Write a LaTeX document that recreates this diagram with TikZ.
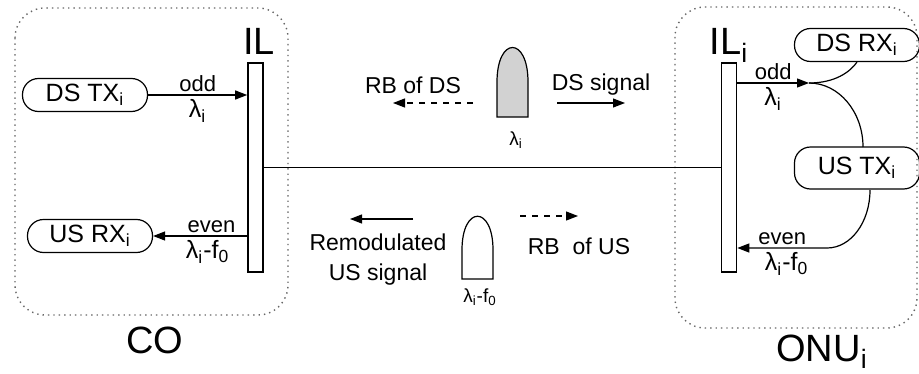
\documentclass[tikz,border=0pt]{standalone}
\usepackage{fontspec}
\setmainfont{Liberation Sans}
\usetikzlibrary{arrows.meta, positioning}
\newcommand{\ix}{\textsubscript{i}}
\tikzset{
  unit/.style={draw, line width=0.6pt, rounded corners=8pt, minimum width=62.5pt, minimum height=16.5pt, inner sep=1pt, font=\fontsize{12.5}{14}\selectfont},
  ilbar/.style={draw, line width=0.8pt, minimum width=7.5pt, minimum height=104.5pt, inner sep=0pt},
  area/.style={dotted, line width=0.7pt, gray!80!black, rounded corners=15pt},
  bigtxt/.style={anchor=base, inner sep=0pt, font=\fontsize{19}{22}\selectfont},
  lbl/.style={inner sep=1.2pt, font=\fontsize{11}{12}\selectfont},
  sym/.style={inner sep=2pt, font=\fontsize{12.5}{14}\selectfont},
  midtxt/.style={inner sep=0pt, font=\fontsize{11.5}{15}\selectfont, align=center},
  smallsym/.style={inner sep=0pt, font=\fontsize{9.5}{10}\selectfont}
}

\begin{document}
\begin{tikzpicture}[x=0.5pt, y=-0.5pt, line width=0.6pt, >={Triangle[length=6pt,width=4.5pt]}]
\useasboundingbox (0,0) rectangle (919,374);

% CO and ONU areas
\draw[area] (15,8) rectangle (288,315);
\draw[area] (675,7) rectangle (917,328);
\node[bigtxt] (co) at (155,353) {CO};
\node[bigtxt] (onu) at (822,361) {ONU\ix};

% interleavers
\node[ilbar] (il) at (255.5,167.5) {};
\node[ilbar] (ili) at (729,167.5) {};
\node[bigtxt] (iltxt) at (259,55) {IL};
\node[bigtxt] (ilitxt) at (729,55) {IL\ix};
\draw (il) -- (ili);

% transmitters and receivers
\node[unit] (dstx) at (85,95) {DS TX\ix};
\node[unit] (usrx) at (90,236) {US RX\ix};
\node[unit] (dsrx) at (857,45) {DS RX\ix};
\node[unit, minimum height=21pt] (ustx) at (857,168) {US TX\ix};

% CO side
\draw[->] (dstx) -- (dstx -| il.west)
  node[midway, above, lbl] {odd} node[midway, below, sym] {λ\ix};
\draw[->] (usrx -| il.west) -- (usrx)
  node[pos=0.38, above, lbl] {even} node[pos=0.42, below, sym] {λ\ix-f\textsubscript{0}};

% ONU side
\coordinate (jodd) at (809,83);
\coordinate (jeven) at (827,248);
\draw[->] (ili.east |- jodd) -- (jodd)
  node[midway, above, lbl] {odd} node[midway, below, sym] {λ\ix};
\draw (jodd) .. controls (835,83) and (850,72) .. (dsrx.south);
\draw (jodd) .. controls (839,83) and (863,112) .. (863,147);
\draw[->] (870,190) .. controls (870,222) and (851,248) .. (jeven) -- (ili.east |- jeven)
  node[midway, above, lbl] {even} node[pos=0.45, below, sym] {λ\ix-f\textsubscript{0}};

% downstream spectrum
\node[midtxt] (rbds) at (413,85) {RB of DS};
\node[midtxt] (dssig) at (601,85) {DS signal};
\coordinate (rbdsA) at (473,103);
\coordinate (rbdsB) at (393,103);
\coordinate (dssigA) at (557,103);
\coordinate (dssigB) at (625,103);
\draw[->, dashed] (rbdsA) -- (rbdsB);
\draw[->] (dssigA) -- (dssigB);
\filldraw[fill=gray!35] (497,117) -- (497,82) .. controls (497,36) and (528,36) .. (528,82) -- (528,117) -- cycle;
\node[smallsym] (lamds) at (516,140) {λ\ix};

% upstream spectrum
\node[midtxt] (remus) at (378,260) {Remodulated\\US signal};
\node[midtxt] (rbus) at (579,246) {RB\ \ of US};
\coordinate (remusA) at (413,219);
\coordinate (remusB) at (350,219);
\coordinate (rbusA) at (520,216);
\coordinate (rbusB) at (578,216);
\draw[->] (remusA) -- (remusB);
\draw[->, dashed] (rbusA) -- (rbusB);
\draw (462,279) -- (462,250) .. controls (462,205) and (493,205) .. (493,250) -- (493,279) -- cycle;
\node[smallsym] (lamus) at (480,297) {λ\ix-f\textsubscript{0}};
\end{tikzpicture}
\end{document}
